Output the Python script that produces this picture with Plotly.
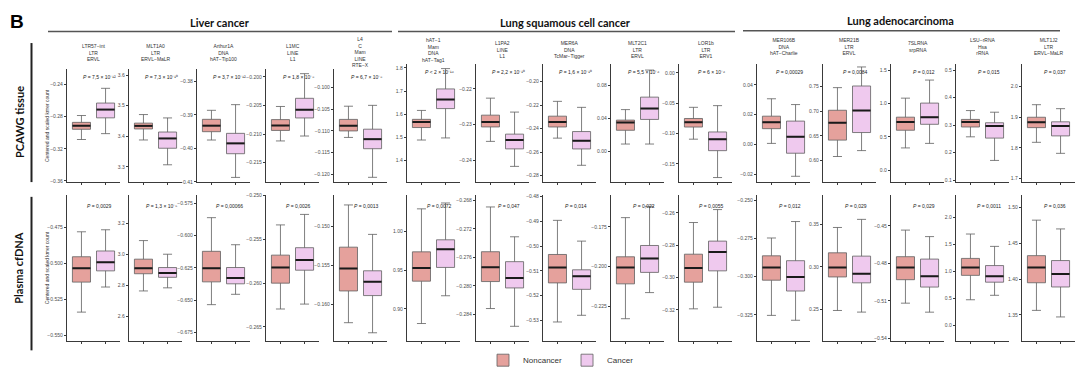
import plotly.graph_objects as go

W, H = 1080, 375

# ---------------- data ----------------
panel_titles = [
    "LTR57−int<br>LTR<br>ERVL", "MLT1A0<br>LTR<br>ERVL−MaLR", "Arthur1A<br>DNA<br>hAT−Tip100",
    "L1MC<br>LINE<br>L1", "L4<br>C<br>Mam<br>LINE<br>RTE−X",
    "hAT−1<br>Mam<br>DNA<br>hAT−Tag1", "L1PA2<br>LINE<br>L1", "MER6A<br>DNA<br>TcMar−Tigger",
    "MLT2C1<br>LTR<br>ERVL", "LOR1b<br>LTR<br>ERV1",
    "MER106B<br>DNA<br>hAT−Charlie", "MER21B<br>LTR<br>ERVL", "7SLRNA<br>srpRNA",
    "LSU−rRNA<br>Hsa<br>rRNA", "MLT1J2<br>LTR<br>ERVL−MaLR",
]
groups = ["Liver cancer", "Lung squamous cell cancer", "Lung adenocarcinoma"]
rows = ["PCAWG tissue", "Plasma cfDNA"]
series = ["Noncancer", "Cancer"]

tissue_p = [
    "= 7,5 × 10⁻¹²", "= 7,3 × 10⁻¹⁰", "= 3,7 × 10⁻¹²", "= 1,8 × 10⁻⁸",
    "= 6,7 × 10⁻⁸", "< 2 × 10⁻¹⁶", "= 2,2 × 10⁻¹⁰", "= 1,6 × 10⁻¹⁰",
    "= 5,5 × 10⁻⁶", "= 6 × 10⁻⁶", "= 0,00029", "= 0,0084", "= 0,012", "= 0,015", "= 0,037",
]
cfdna_p = [
    "= 0,0029", "= 1,3 × 10⁻⁵", "= 0,00066", "= 0,0026", "= 0,0013", "= 0,0072", "= 0,047",
    "= 0,014", "= 0,022", "= 0,0055", "= 0,012", "= 0,029", "= 0,029", "= 0,0011", "= 0,036",
]

tissue_ticks = [
    [-0.36, -0.32, -0.28, -0.24], [3.3, 3.4, 3.5, 3.6], [-0.41, -0.40, -0.39, -0.38],
    [-0.215, -0.210, -0.205, -0.200], [-0.120, -0.115, -0.110, -0.105, -0.100],
    [1.4, 1.5, 1.6, 1.7, 1.8], [-0.24, -0.23, -0.22], [-0.28, -0.26, -0.24, -0.22, -0.20],
    [0.00, 0.04, 0.08], [-0.15, -0.10, -0.05, 0.00],
    [-0.02, 0.00, 0.02, 0.04], [0.60, 0.65, 0.70, 0.75], [0.0, 0.5, 1.0, 1.5],
    [0.1, 0.2, 0.3, 0.4, 0.5], [1.7, 1.8, 1.9, 2.0],
]
tissue_dec = [2, 1, 2, 3, 3, 1, 2, 2, 2, 2, 2, 2, 1, 1, 1]
tissue_range = [
    [-0.3614, -0.2208], [3.2505, 3.62], [-0.4101, -0.3762], [-0.2184, -0.1986], [-0.1218, -0.0957],
    [1.306, 1.819], [-0.2461, -0.2129], [-0.2854, -0.1845], [-0.0376, 0.107], [-0.180, 0.0154],
    [-0.0253, 0.0544], [0.556, 0.797], [-0.177, 1.60], [0.0925, 0.5244], [1.688, 2.0756],
]
# [lower whisker, Q1, median, Q3, upper whisker]
tissue_noncancer = [
    [-0.3085, -0.2958, -0.2914, -0.2872, -0.2787], [3.388, 3.424, 3.434, 3.443, 3.471],
    [-0.3975, -0.3950, -0.3932, -0.3913, -0.3886], [-0.2112, -0.20936, -0.2085, -0.20747, -0.20517],
    [-0.1115, -0.1100, -0.1088, -0.10734, -0.1043], [1.488, 1.542, 1.566, 1.5775, 1.616],
    [-0.2347, -0.23066, -0.22928, -0.22736, -0.2226], [-0.248, -0.2385, -0.2343, -0.2293, -0.2167],
    [0.0088, 0.0256, 0.0352, 0.038, 0.0508], [-0.1093, -0.0893, -0.0812, -0.0752, -0.0568],
    [0.0007, 0.0106, 0.015, 0.019, 0.0307], [0.608, 0.6413, 0.6767, 0.702, 0.748],
    [0.335, 0.60, 0.723, 0.796, 1.081], [0.2574, 0.2932, 0.311, 0.3208, 0.353],
    [1.818, 1.866, 1.884, 1.900, 1.941],
]
tissue_cancer = [
    [-0.3012, -0.2816, -0.2713, -0.2632, -0.2449], [3.307, 3.361, 3.393, 3.414, 3.460],
    [-0.4087, -0.4016, -0.3985, -0.3955, -0.3869], [-0.21034, -0.20718, -0.20574, -0.20374, -0.19943],
    [-0.1207, -0.1141, -0.1119, -0.1096, -0.1041], [1.497, 1.624, 1.663, 1.709, 1.797],
    [-0.2417, -0.2368, -0.23433, -0.23267, -0.2265], [-0.2711, -0.2572, -0.2502, -0.2424, -0.2218],
    [0.0088, 0.0388, 0.052, 0.066, 0.099], [-0.1725, -0.1282, -0.1093, -0.0974, -0.054],
    [-0.0214, -0.0059, 0.0051, 0.0157, 0.0268], [0.620, 0.6567, 0.7013, 0.7513, 0.790],
    [0.403, 0.689, 0.796, 1.007, 1.352], [0.1714, 0.2527, 0.2968, 0.3086, 0.347],
    [1.782, 1.839, 1.871, 1.885, 1.928],
]

cfdna_ticks = [
    [-0.550, -0.525, -0.500, -0.475], [2.6, 2.8, 3.0, 3.2], [-0.675, -0.650, -0.625, -0.600, -0.575],
    [-0.265, -0.260, -0.255, -0.250], [-0.160, -0.155, -0.150], [0.90, 0.95, 1.00],
    [-0.284, -0.280, -0.276, -0.272, -0.268], [-0.53, -0.52, -0.51, -0.50, -0.49, -0.48],
    [-0.225, -0.200, -0.175], [-0.32, -0.30, -0.28, -0.26], [-0.325, -0.300, -0.275, -0.250],
    [0.25, 0.30, 0.35], [-0.54, -0.51, -0.48, -0.45], [0.0, 0.5, 1.0, 1.5, 2.0], [1.35, 1.40, 1.45, 1.50],
]
cfdna_dec = [3, 1, 3, 3, 3, 2, 3, 2, 3, 2, 3, 2, 2, 1, 2]
cfdna_range = [
    [-0.5534, -0.4524], [2.445, 3.385], [-0.6812, -0.5687], [-0.26655, -0.24992], [-0.1647, -0.1459],
    [0.859, 1.0477], [-0.2877, -0.2672], [-0.5382, -0.4793], [-0.2464, -0.1549], [-0.339, -0.2489],
    [-0.3419, -0.2463], [0.2137, 0.3844], [-0.5418, -0.4252], [-0.285, 2.424], [1.314, 1.518],
]
cfdna_noncancer = [
    [-0.5337, -0.5129, -0.5033, -0.4953, -0.4780], [2.765, 2.876, 2.912, 2.970, 3.090],
    [-0.6535, -0.6359, -0.6254, -0.6123, -0.5863], [-0.26295, -0.2600, -0.2582, -0.2568, -0.25335],
    [-0.1624, -0.1583, -0.1554, -0.15265, -0.1472], [0.881, 0.9359, 0.9528, 0.9739, 1.0296],
    [-0.2832, -0.2794, -0.2774, -0.2752, -0.2689], [-0.5307, -0.5149, -0.5087, -0.5034, -0.4896],
    [-0.2327, -0.2108, -0.2005, -0.1938, -0.1692], [-0.3194, -0.3029, -0.2942, -0.2856, -0.2660],
    [-0.3254, -0.3023, -0.2940, -0.2863, -0.2746], [0.2489, 0.2882, 0.2993, 0.3165, 0.3462],
    [-0.5119, -0.4931, -0.4834, -0.4747, -0.4534], [0.473, 0.927, 1.073, 1.242, 1.696],
    [1.3562, 1.3949, 1.4164, 1.4329, 1.4826],
]
cfdna_cancer = [
    [-0.5163, -0.5051, -0.4992, -0.4913, -0.4766], [2.785, 2.853, 2.880, 2.916, 3.002],
    [-0.6455, -0.6374, -0.6329, -0.6248, -0.6072], [-0.26239, -0.25852, -0.25737, -0.25595, -0.25215],
    [-0.1637, -0.1589, -0.1571, -0.1557, -0.1510], [0.917, 0.9537, 0.9772, 0.9895, 1.0372],
    [-0.2857, -0.2803, -0.2789, -0.2766, -0.2731], [-0.5280, -0.5175, -0.5122, -0.5096, -0.4980],
    [-0.2163, -0.2036, -0.1948, -0.1867, -0.1621], [-0.3184, -0.2959, -0.2842, -0.2775, -0.2580],
    [-0.3286, -0.3094, -0.3002, -0.2895, -0.2638], [0.2470, 0.2813, 0.2920, 0.3126, 0.3557],
    [-0.5191, -0.4990, -0.4904, -0.4766, -0.4586], [0.556, 0.800, 0.909, 1.109, 1.466],
    [1.3470, 1.3890, 1.4073, 1.4260, 1.4703],
]

# ---------------- layout geometry (pixels) ----------------
panel_left = [67, 129, 197, 266, 334, 407, 476, 543, 611, 679, 757, 823, 891, 956, 1022]
PW = 53
group_of_panel = [0] * 5 + [1] * 5 + [2] * 5
row_top = [[67, 61.5, 61.5], [195, 195, 195]]
row_bottom = [182, 343]
title_y = [50, 47.5, 44.5]

NC_FILL = "#E5A19C"
CA_FILL = "#EFC9EE"
BOX_LINE = "#5f5f5f"
AX = "#3a3a3a"
TXT = "#4d4d4d"
SMALL = "Liberation Sans, Arial, sans-serif"
HEAD = "Lato, Open Sans, sans-serif"

px = lambda x: x / W
py = lambda y: 1 - y / H


def fmt(v, d):
    return f"{v:.{d}f}".replace("-", "−")


fig = go.Figure()
layout = {}
annotations = []
shapes = []

data_rows = [
    (tissue_ticks, tissue_dec, tissue_range, tissue_noncancer, tissue_cancer, tissue_p),
    (cfdna_ticks, cfdna_dec, cfdna_range, cfdna_noncancer, cfdna_cancer, cfdna_p),
]

for r, (ticks, decs, ranges, ncs, cas, pvals) in enumerate(data_rows):
    for i in range(15):
        idx = r * 15 + i + 1
        xa = "x" if idx == 1 else f"x{idx}"
        ya = "y" if idx == 1 else f"y{idx}"
        g = group_of_panel[i]
        top = row_top[r][g]
        bot = row_bottom[r]
        left = panel_left[i]
        layout["xaxis" if idx == 1 else f"xaxis{idx}"] = dict(
            domain=[px(left), px(left + PW)], anchor=ya, range=[-0.6, 1.6],
            showline=True, linecolor=AX, linewidth=1.4, ticks="outside", ticklen=2,
            tickwidth=0.8, tickcolor=AX, tickvals=[0, 1], showticklabels=False,
            showgrid=False, zeroline=False, fixedrange=True,
        )
        layout["yaxis" if idx == 1 else f"yaxis{idx}"] = dict(
            domain=[py(bot), py(top)], anchor=xa, range=ranges[i],
            showline=True, linecolor=AX, linewidth=1.4, ticks="outside", ticklen=2,
            tickwidth=0.8, tickcolor=AX, tickvals=ticks[i],
            ticktext=[fmt(v, decs[i]) for v in ticks[i]],
            tickfont=dict(size=5, color=TXT, family=SMALL),
            showgrid=False, zeroline=False, fixedrange=True,
        )
        for k, (stats, name, color) in enumerate([(ncs[i], series[0], NC_FILL), (cas[i], series[1], CA_FILL)]):
            fig.add_trace(go.Box(
                x=[k], lowerfence=[stats[0]], q1=[stats[1]], median=[stats[2]],
                q3=[stats[3]], upperfence=[stats[4]], width=0.75, fillcolor=color,
                line=dict(color=BOX_LINE, width=0.8), name=name, legendgroup=name,
                showlegend=(r == 0 and i == 0), boxpoints=False, xaxis=xa, yaxis=ya,
                hoverinfo="skip",
            ))
            fig.add_trace(go.Scatter(
                x=[k - 0.375, k + 0.375], y=[stats[2], stats[2]], mode="lines",
                line=dict(color="#1a1a1a", width=2), showlegend=False,
                xaxis=xa, yaxis=ya, hoverinfo="skip",
            ))
        annotations.append(dict(
            text=f"<i>P</i> {pvals[i]}",
            xref=xa, yref=f"{ya} domain", x=0.75, y=0.925, xanchor="center", yanchor="middle",
            showarrow=False, font=dict(size=5, color="#222", family=SMALL),
        ))
        if r == 0:
            annotations.append(dict(
                text=panel_titles[i], xref="paper", yref="paper",
                x=px(left + PW / 2), y=py(title_y[g]), xanchor="center", yanchor="middle",
                showarrow=False, font=dict(size=5, color="#333", family=SMALL),
            ))

# group headers
group_lines = [(48, 392, 29), (398, 735, 29), (743, 1060, 28.3)]
group_text = [(220, 20), (565, 20), (900, 18)]
for g, name in enumerate(groups):
    x0, x1, yl = group_lines[g]
    shapes.append(dict(type="line", xref="paper", yref="paper", x0=px(x0), x1=px(x1),
                       y0=py(yl), y1=py(yl), line=dict(color="#555", width=1.5)))
    annotations.append(dict(text=f"<b>{name}</b>", xref="paper", yref="paper",
                            x=px(group_text[g][0]), y=py(group_text[g][1]),
                            xanchor="center", yanchor="middle", showarrow=False,
                            font=dict(size=11, color="#111", family=HEAD)))

# row labels
row_lines = [(40.7, 182), (197, 353)]
row_text_y = [121, 270]
for r, name in enumerate(rows):
    y0, y1 = row_lines[r]
    shapes.append(dict(type="line", xref="paper", yref="paper", x0=px(31.5), x1=px(31.5),
                       y0=py(y0), y1=py(y1), line=dict(color="#222", width=2)))
    annotations.append(dict(text=f"<b>{name}</b>", xref="paper", yref="paper",
                            x=px(19), y=py(row_text_y[r]), xanchor="center", yanchor="middle",
                            textangle=-90, showarrow=False,
                            font=dict(size=11, color="#111", family=HEAD)))
    annotations.append(dict(text="Centered and scaled kmer count", xref="paper", yref="paper",
                            x=px(46.5), y=py((row_top[r][0] + row_bottom[r]) / 2),
                            xanchor="center", yanchor="middle", textangle=-90, showarrow=False,
                            font=dict(size=5, color="#333", family=SMALL)))

annotations.append(dict(text="<b>B</b>", xref="paper", yref="paper", x=px(8), y=py(19),
                        xanchor="left", yanchor="middle", showarrow=False,
                        font=dict(size=19, color="#000", family="Liberation Sans, Arial")))

fig.update_layout(
    width=W, height=H, margin=dict(l=0, r=0, t=0, b=0),
    paper_bgcolor="white", plot_bgcolor="white",
    boxmode="overlay", showlegend=True,
    legend=dict(orientation="h", x=px(561), y=py(363), xanchor="center", yanchor="middle",
                font=dict(size=8, color="#333", family=SMALL), itemwidth=30,
                bgcolor="rgba(0,0,0,0)"),
    annotations=annotations, shapes=shapes, **layout,
)

fig.write_html(
    "out.html",
    config={"displayModeBar": False},
    post_script="document.body.style.margin='0';document.body.style.overflow='hidden';",
)
